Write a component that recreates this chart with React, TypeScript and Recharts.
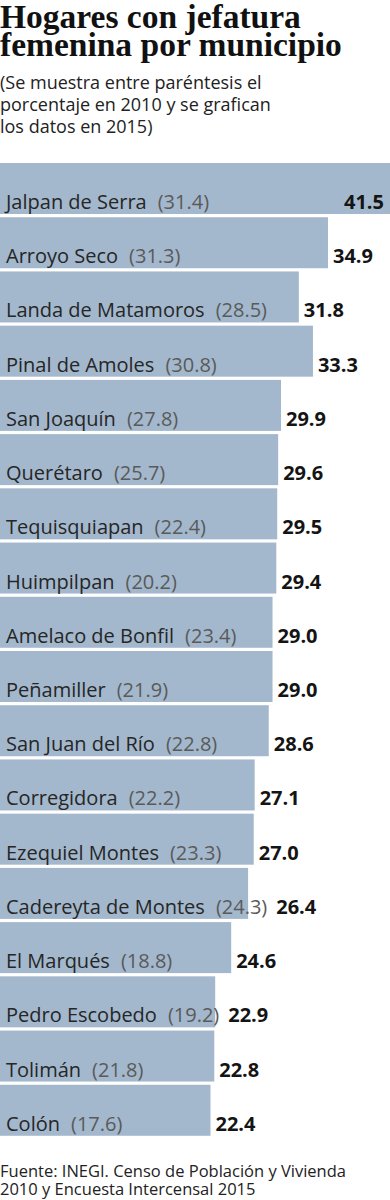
import { BarChart, Bar, XAxis, YAxis } from 'recharts';

const municipios = [
  'Jalpan de Serra',
  'Arroyo Seco',
  'Landa de Matamoros',
  'Pinal de Amoles',
  'San Joaquín',
  'Querétaro',
  'Tequisquiapan',
  'Huimpilpan',
  'Amelaco de Bonfil',
  'Peñamiller',
  'San Juan del Río',
  'Corregidora',
  'Ezequiel Montes',
  'Cadereyta de Montes',
  'El Marqués',
  'Pedro Escobedo',
  'Tolimán',
  'Colón',
];

const pct2010 = [31.4, 31.3, 28.5, 30.8, 27.8, 25.7, 22.4, 20.2, 23.4, 21.9, 22.8, 22.2, 23.3, 24.3, 18.8, 19.2, 21.8, 17.6];

const pct2015 = [41.5, 34.9, 31.8, 33.3, 29.9, 29.6, 29.5, 29.4, 29.0, 29.0, 28.6, 27.1, 27.0, 26.4, 24.6, 22.9, 22.8, 22.4];

const data = municipios.map((name, i) => ({ name, prev: pct2010[i], value: pct2015[i] }));

const SANS = '"Open Sans", sans-serif';
const BAR_COLOR = '#a3b8cc';
const LABEL_SIZE = 20;
const PAREN_GAP = 11;

let measureCtx: CanvasRenderingContext2D | null = null;
function textWidth(text: string, weight = 400): number {
  if (!measureCtx) measureCtx = document.createElement('canvas').getContext('2d');
  if (!measureCtx) return text.length * LABEL_SIZE * 0.55;
  measureCtx.font = `${weight} ${LABEL_SIZE}px "Open Sans"`;
  return measureCtx.measureText(text).width;
}

interface BarShapeProps {
  x?: number;
  y?: number;
  width?: number;
  height?: number;
  payload?: { name: string; prev: number; value: number };
}

// bar + its two labels; the value moves right when the name label runs past the bar
function BarWithLabels({ x = 0, y = 0, width = 0, height = 0, payload }: BarShapeProps) {
  if (!payload) return null;
  const baseline = y + height - 5;
  const prevText = `(${payload.prev.toFixed(1)})`;
  const valueText = payload.value.toFixed(1);
  const labelEnd = x + 6 + textWidth(payload.name) + PAREN_GAP + textWidth(prevText);
  const inside = x + width + 5 + textWidth(valueText, 700) > 390;
  const valueX = inside ? x + width - 6 : Math.max(x + width + 5, labelEnd + 9);
  return (
    <g>
      <rect x={x} y={y} width={width} height={height} fill={BAR_COLOR} />
      <text x={x + 6} y={baseline} fontFamily={SANS} fontSize={LABEL_SIZE} fill="#262626">
        {payload.name}
        <tspan dx={PAREN_GAP} fill="#5a5a5a">
          {prevText}
        </tspan>
      </text>
      <text
        x={valueX}
        y={baseline}
        textAnchor={inside ? 'end' : 'start'}
        fontFamily={SANS}
        fontWeight={700}
        fontSize={LABEL_SIZE}
        fill="#141414"
      >
        {valueText}
      </text>
    </g>
  );
}

export default function App() {
  return (
    <div style={{ position: 'absolute', left: 0, top: 0, width: 390, height: 1200, background: '#fff' }}>
      <svg width={390} height={150} style={{ position: 'absolute', left: 0, top: 0 }}>
        <g fontFamily='"Liberation Serif", serif' fontWeight={700} fontSize={33.5} fill="#111">
          <text x={0} y={28}>Hogares con jefatura</text>
          <text x={0} y={56}>femenina por municipio</text>
        </g>
        <g fontFamily={SANS} fontSize={18} fill="#222">
          <text x={0} y={89}>(Se muestra entre paréntesis el</text>
          <text x={0} y={111}>porcentaje en 2010 y se grafican</text>
          <text x={0} y={133}>los datos en 2015)</text>
        </g>
      </svg>
      <div style={{ position: 'absolute', left: 0, top: 161 }}>
        <BarChart
          layout="vertical"
          width={390}
          height={976}
          data={data}
          margin={{ top: 0, right: 0, bottom: 0, left: 0 }}
          barSize={51}
        >
          <XAxis type="number" domain={[0, 41.5]} hide />
          <YAxis type="category" dataKey="name" hide />
          <Bar dataKey="value" fill={BAR_COLOR} isAnimationActive={false} shape={<BarWithLabels />} />
        </BarChart>
      </div>
      <svg width={390} height={60} style={{ position: 'absolute', left: 0, top: 1140 }}>
        <g fontFamily={SANS} fontSize={16.5} fill="#222">
          <text x={0} y={37}>Fuente: INEGI. Censo de Población y Vivienda</text>
          <text x={0} y={55}>2010 y Encuesta Intercensal 2015</text>
        </g>
      </svg>
    </div>
  );
}
